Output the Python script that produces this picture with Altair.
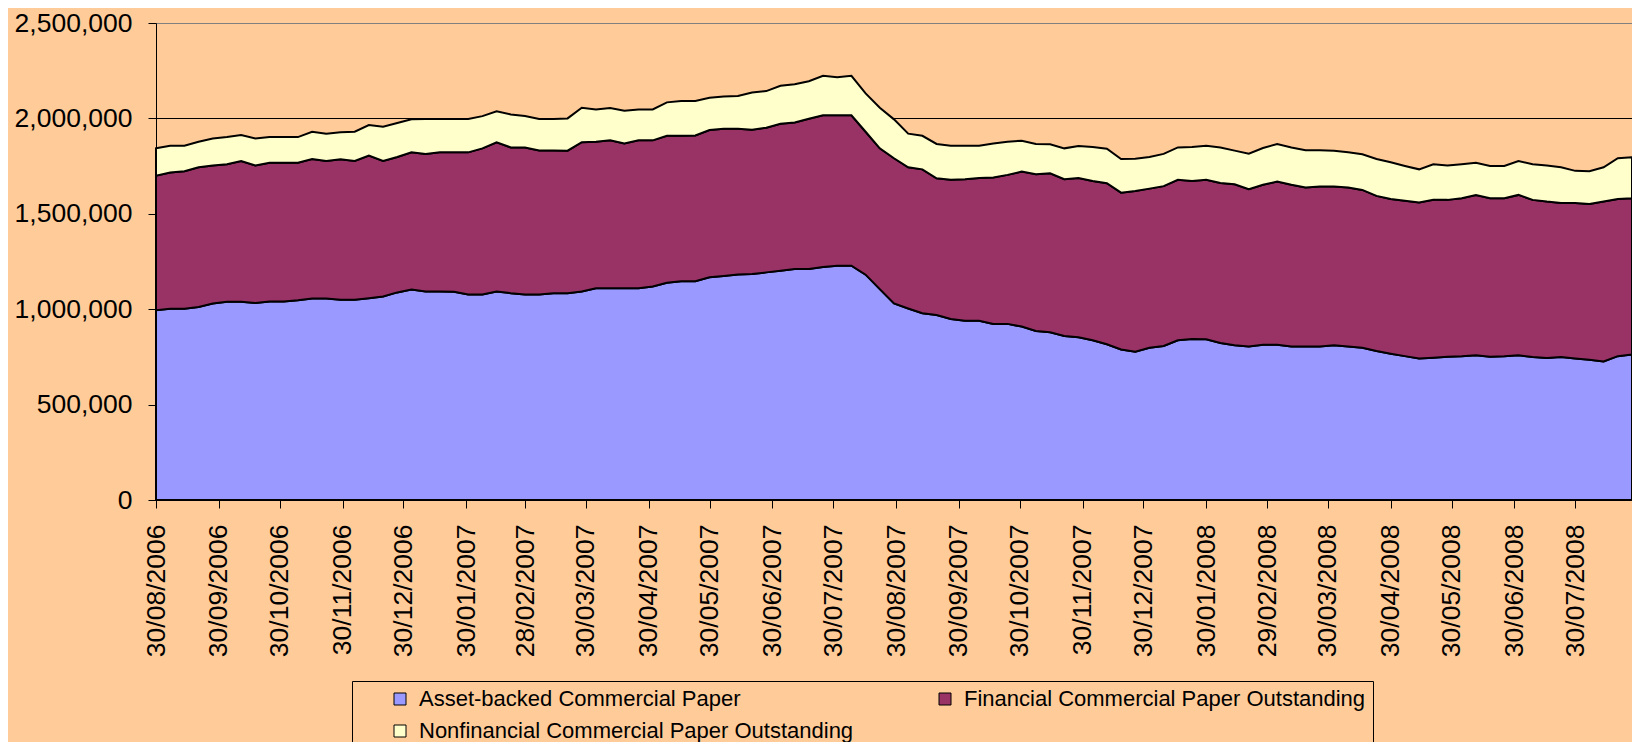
import altair as alt
import pandas as pd

# Weekly reporting dates (Wednesdays), 30/08/2006 .. 27/08/2008
weeks = [d.strftime("%Y-%m-%d") for d in pd.date_range("2006-08-30", periods=105, freq="7D")]

series_names = [
    "Asset-backed Commercial Paper",
    "Financial Commercial Paper Outstanding",
    "Nonfinancial Commercial Paper Outstanding",
]
series_colors = ["#9999FF", "#993366", "#FFFFCC"]

abcp = [
    995000, 1002000, 1002000, 1012000, 1030000, 1039000, 1039000, 1032000, 1040000, 1040000,
    1047000, 1056000, 1056000, 1049000, 1049000, 1058000, 1067000, 1088000, 1103000, 1093000,
    1093000, 1091000, 1077000, 1077000, 1093000, 1084000, 1077000, 1077000, 1084000, 1084000,
    1093000, 1110000, 1110000, 1110000, 1110000, 1119000, 1139000, 1147000, 1147000, 1167000,
    1174000, 1182000, 1184000, 1193000, 1202000, 1211000, 1211000, 1221000, 1228000, 1228000,
    1181000, 1105000, 1030000, 1004000, 979000, 970000, 949000, 940000, 939000, 923000,
    923000, 909000, 886000, 879000, 860000, 853000, 837000, 816000, 789000, 777000,
    798000, 807000, 837000, 844000, 842000, 823000, 811000, 804000, 814000, 814000,
    804000, 804000, 804000, 811000, 804000, 798000, 781000, 767000, 754000, 742000,
    746000, 751000, 753000, 758000, 751000, 753000, 758000, 749000, 744000, 749000,
    742000, 735000, 726000, 754000, 763000,
]

financial = [
    705000, 714000, 721000, 732000, 723000, 721000, 738000, 721000, 728000, 728000,
    721000, 731000, 721000, 737000, 728000, 747000, 710000, 710000, 719000, 721000,
    729000, 731000, 745000, 766000, 782000, 764000, 771000, 755000, 748000, 747000,
    782000, 768000, 775000, 759000, 775000, 766000, 770000, 762000, 764000, 772000,
    772000, 764000, 757000, 758000, 770000, 768000, 787000, 795000, 788000, 788000,
    749000, 738000, 761000, 740000, 754000, 716000, 729000, 741000, 749000, 767000,
    781000, 812000, 821000, 833000, 821000, 835000, 835000, 844000, 822000, 843000,
    834000, 838000, 841000, 828000, 836000, 839000, 844000, 825000, 838000, 855000,
    848000, 834000, 839000, 832000, 834000, 827000, 813000, 811000, 814000, 817000,
    827000, 822000, 829000, 841000, 831000, 829000, 841000, 824000, 820000, 808000,
    815000, 816000, 838000, 824000, 819000,
]

nonfinancial = [
    143000, 141000, 134000, 134000, 142000, 142000, 136000, 142000, 134000, 134000,
    134000, 143000, 143000, 141000, 153000, 160000, 179000, 178000, 173000, 183000,
    175000, 175000, 175000, 169000, 162000, 173000, 164000, 165000, 165000, 169000,
    181000, 169000, 169000, 171000, 162000, 162000, 175000, 182000, 180000, 169000,
    169000, 171000, 195000, 192000, 199000, 200000, 197000, 207000, 200000, 207000,
    201000, 213000, 204000, 176000, 176000, 180000, 179000, 176000, 169000, 178000,
    174000, 162000, 159000, 152000, 162000, 167000, 178000, 181000, 176000, 169000,
    166000, 169000, 170000, 178000, 179000, 186000, 176000, 186000, 193000, 197000,
    195000, 195000, 190000, 188000, 184000, 187000, 193000, 192000, 183000, 174000,
    187000, 180000, 178000, 169000, 169000, 169000, 178000, 187000, 189000, 187000,
    168000, 172000, 180000, 213000, 214000,
]

tick_dates = [
    (2006, 8, 30), (2006, 9, 30), (2006, 10, 30), (2006, 11, 30), (2006, 12, 30),
    (2007, 1, 30), (2007, 2, 28), (2007, 3, 30), (2007, 4, 30), (2007, 5, 30),
    (2007, 6, 30), (2007, 7, 30), (2007, 8, 30), (2007, 9, 30), (2007, 10, 30),
    (2007, 11, 30), (2007, 12, 30), (2008, 1, 30), (2008, 2, 29), (2008, 3, 30),
    (2008, 4, 30), (2008, 5, 30), (2008, 6, 30), (2008, 7, 30),
]
y_ticks = [0, 500000, 1000000, 1500000, 2000000, 2500000]

rows = []
for k, (name, vals) in enumerate(zip(series_names, [abcp, financial, nonfinancial])):
    for d, v in zip(weeks, vals):
        rows.append({"date": d, "series": name, "value": v, "order": k})
df = pd.DataFrame(rows)

FONT = "Liberation Sans"

x = alt.X(
    "date:T",
    title=None,
    scale=alt.Scale(
        type="utc",
        nice=False,
        domain=[
            alt.DateTime(year=2006, month=8, date=30, utc=True),
            alt.DateTime(year=2008, month=8, date=27, utc=True),
        ],
    ),
    axis=alt.Axis(
        values=[alt.DateTime(year=yy, month=mm, date=dd, utc=True) for yy, mm, dd in tick_dates],
        labelExpr="utcFormat(datum.value, '%d/%m/%Y')",
        labelAngle=270,
        labelFontSize=26.5,
        labelFont=FONT,
        labelColor="black",
        labelPadding=16,
        labelOverlap=False,
        labelFlush=False,
        tickSize=8,
        tickColor="black",
        domainColor="black",
        grid=False,
    ),
)

y = alt.Y(
    "value:Q",
    stack="zero",
    title=None,
    scale=alt.Scale(domain=[0, 2500000], nice=False),
    axis=alt.Axis(
        values=y_ticks,
        format=",d",
        labelFontSize=26.5,
        labelFont=FONT,
        labelColor="black",
        labelPadding=16,
        labelFlush=False,
        tickSize=8,
        tickColor="black",
        domainColor="black",
        grid=True,
        gridColor={"condition": {"test": "datum.value >= 2500000", "value": "#808080"}, "value": "black"},
        gridWidth=1,
    ),
)

color = alt.Color(
    "series:N",
    scale=alt.Scale(domain=series_names, range=series_colors),
    legend=alt.Legend(
        orient="none",
        legendX=196,
        legendY=658,
        direction="horizontal",
        columns=2,
        gridAlign="all",
        columnPadding=80,
        rowPadding=10,
        labelFontSize=22,
        labelFont=FONT,
        labelColor="black",
        labelLimit=1000,
        labelOffset=8,
        symbolType="square",
        symbolSize=144,
        symbolStrokeColor="black",
        symbolStrokeWidth=1,
        symbolOpacity=1,
        padding=7,
        strokeColor="black",
        fillColor="#FFCC99",
        title=" ",
        titleOrient="left",
        titlePadding=30,
        titleFontSize=22,
    ),
)

chart = (
    alt.Chart(df)
    .mark_area(stroke="black", strokeWidth=2, opacity=1, interpolate="linear")
    .encode(x=x, y=y, color=color, order=alt.Order("order:Q", sort="ascending"))
    .properties(
        width=1476,
        height=477,
        autosize=alt.AutoSizeParams(type="none"),
        padding={"left": 148, "top": 15, "right": 0, "bottom": 242},
        background="#FFCC99",
    )
    .configure_view(stroke="#808080", strokeWidth=1)
    .configure(font=FONT)
)

chart.save("out.html", embed_options={"renderer": "svg", "actions": False})
